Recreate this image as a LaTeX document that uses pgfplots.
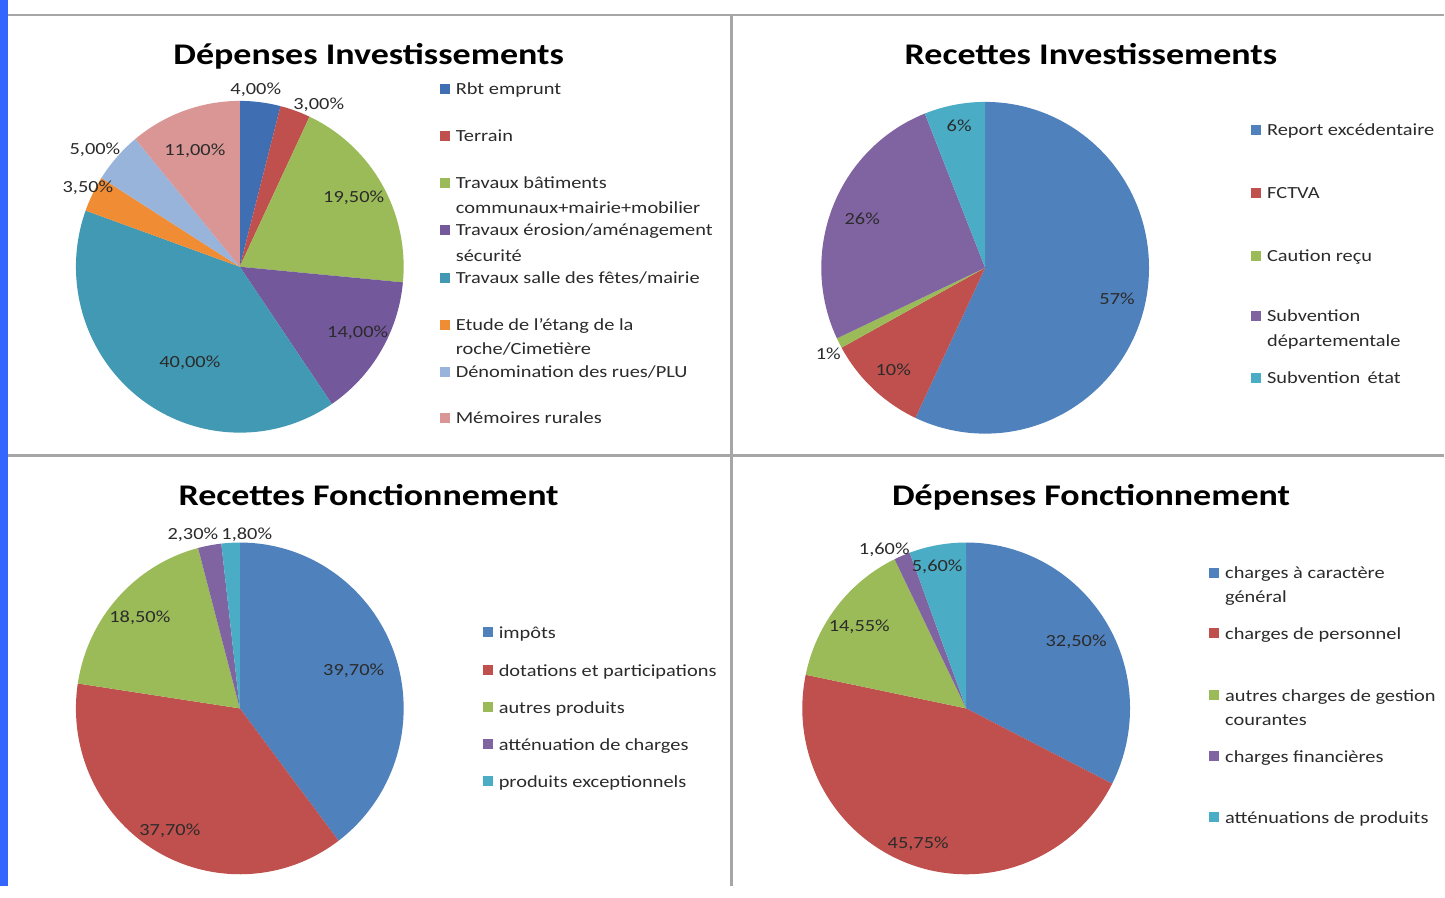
\documentclass[border=0pt]{standalone}
\usepackage{fontspec}
\setmainfont{Carlito}[FakeStretch=1.2]
\usepackage{pgfplots}
\pgfplotsset{compat=1.18}

\definecolor{cBlue}{HTML}{4F81BD}
\definecolor{cBlueD}{HTML}{3F6EB3}
\definecolor{cRed}{HTML}{C0504D}
\definecolor{cGreen}{HTML}{9BBB59}
\definecolor{cPurple}{HTML}{8064A2}
\definecolor{cPurpleD}{HTML}{73589C}
\definecolor{cCyan}{HTML}{4BACC6}
\definecolor{cTeal}{HTML}{4299B3}
\definecolor{cOrange}{HTML}{F08C33}
\definecolor{cLBlue}{HTML}{99B4DB}
\definecolor{cPink}{HTML}{D99694}
\definecolor{frame}{HTML}{A6A6A6}
\definecolor{strip}{HTML}{3366FF}
\definecolor{txt}{HTML}{2B2B2B}

\pgfplotsset{pie/.style={hide axis, scale only axis, width=328pt, height=332pt,
  xmin=-1, xmax=1, ymin=-1, ymax=1, anchor=center, clip=false}}

\newcommand\titlefont{\fontsize{30}{36}\selectfont\bfseries}
\newcommand\legfont{\fontsize{17}{20}\selectfont}

% one wedge, clockwise from 12 o'clock; #1 = percent, #2 = colour
\newcommand\startpie{\xdef\cum{0}}
\newcommand\slice[2]{%
  \pgfmathsetmacro\sa{90-3.6*\cum}%
  \pgfmathsetmacro\sb{90-3.6*(\cum+#1)}%
  \edef\doslice{\noexpand\fill[#2] (axis cs:0,0) -- (axis cs:{cos(\sa)},{sin(\sa)})
    arc[start angle=\sa, end angle=\sb, x radius=164pt, y radius=166pt] -- cycle;}%
  \doslice
  \pgfmathsetmacro\newcum{\cum+#1}%
  \xdef\cum{\newcum}%
}

% legend entry: text x, y, colour, text
\newcommand\leg[4]{%
  \fill[#3] (#1-15.5,#2-5) rectangle (#1-5.5,#2+5);
  \node[anchor=base west, inner sep=0, text=txt, font=\legfont] at (#1,#2+6) {#4};}
\newcommand\legcont[3]{%
  \node[anchor=base west, inner sep=0, text=txt, font=\legfont] at (#1,#2+6) {#3};}
\newcommand\lab[3]{\node[text=txt, font=\legfont] at (#1,#2) {#3};}

\begin{document}
\begin{tikzpicture}
\fill[white] (0,0) rectangle (1445pt,-887pt);
\fill[strip] (0,0) rectangle (8pt,-887pt);
\draw[frame, line width=2.5pt] (8pt,-15pt) -- (1445pt,-15pt);
\draw[frame, line width=2.5pt] (8pt,-456pt) -- (1445pt,-456pt);
\draw[frame, line width=2.5pt] (732pt,-15pt) -- (732pt,-887pt);

% Dépenses Investissements
\begin{axis}[pie, at={(240pt,-267pt)}]
  \startpie
  \slice{4}{cBlueD}
  \slice{3}{cRed}
  \slice{19.5}{cGreen}
  \slice{14}{cPurpleD}
  \slice{40}{cTeal}
  \slice{3.5}{cOrange}
  \slice{5}{cLBlue}
  \slice{11}{cPink}
\end{axis}

% Recettes Investissements
\begin{axis}[pie, at={(986pt,-268pt)}]
  \startpie
  \slice{57}{cBlue}
  \slice{10}{cRed}
  \slice{1}{cGreen}
  \slice{26}{cPurple}
  \slice{6}{cCyan}
\end{axis}

% Recettes Fonctionnement
\begin{axis}[pie, at={(240pt,-709pt)}]
  \startpie
  \slice{39.7}{cBlue}
  \slice{37.7}{cRed}
  \slice{18.5}{cGreen}
  \slice{2.3}{cPurple}
  \slice{1.8}{cCyan}
\end{axis}

% Dépenses Fonctionnement
\begin{axis}[pie, at={(967pt,-709pt)}]
  \startpie
  \slice{32.5}{cBlue}
  \slice{45.75}{cRed}
  \slice{14.55}{cGreen}
  \slice{1.6}{cPurple}
  \slice{5.6}{cCyan}
\end{axis}

\begin{scope}[x=1pt, y=-1pt]
  % titles
  \node[font=\titlefont, anchor=base] at (369,65) {Dépenses Investissements};
  \node[font=\titlefont, anchor=base] at (1092,65) {Recettes Investissements};
  \node[font=\titlefont, anchor=base] at (369,506) {Recettes Fonctionnement};
  \node[font=\titlefont, anchor=base] at (1092,506) {Dépenses Fonctionnement};

  % slice labels
  \lab{256}{90}{4,00\%}
  \lab{319}{105}{3,00\%}
  \lab{354}{198}{19,50\%}
  \lab{358}{333}{14,00\%}
  \lab{190}{363}{40,00\%}
  \lab{88}{188}{3,50\%}
  \lab{95}{150}{5,00\%}
  \lab{195}{151}{11,00\%}

  \lab{960}{126}{6\%}
  \lab{863}{219}{26\%}
  \lab{1118}{299}{57\%}
  \lab{829}{354}{1\%}
  \lab{894}{370}{10\%}

  \lab{193}{535}{2,30\%}
  \lab{247}{535}{1,80\%}
  \lab{140}{618}{18,50\%}
  \lab{354}{671}{39,70\%}
  \lab{170}{832}{37,70\%}

  \lab{885}{550}{1,60\%}
  \lab{938}{567}{5,60\%}
  \lab{860}{627}{14,55\%}
  \lab{1077}{642}{32,50\%}
  \lab{919}{845}{45,75\%}

  % legends
  \leg{456}{89}{cBlueD}{Rbt emprunt}
  \leg{456}{136}{cRed}{Terrain}
  \leg{456}{183}{cGreen}{Travaux bâtiments}
  \legcont{456}{208}{communaux+mairie+mobilier}
  \leg{456}{230}{cPurpleD}{Travaux érosion/aménagement}
  \legcont{456}{256}{sécurité}
  \leg{456}{278}{cTeal}{Travaux salle des fêtes/mairie}
  \leg{456}{325}{cOrange}{Etude de l'étang de la}
  \legcont{456}{349}{roche/Cimetière}
  \leg{456}{372}{cLBlue}{Dénomination des rues/PLU}
  \leg{456}{418}{cPink}{Mémoires rurales}

  \leg{1268}{130}{cBlue}{Report excédentaire}
  \leg{1268}{193}{cRed}{FCTVA}
  \leg{1268}{256}{cGreen}{Caution reçu}
  \leg{1268}{316}{cPurple}{Subvention}
  \legcont{1268}{341}{départementale}
  \leg{1268}{378}{cCyan}{Subvention\, état}

  \leg{499}{633}{cBlue}{impôts}
  \leg{499}{671}{cRed}{dotations et participations}
  \leg{499}{708}{cGreen}{autres produits}
  \leg{499}{745}{cPurple}{atténuation de charges}
  \leg{499}{782}{cCyan}{produits exceptionnels}

  \leg{1226}{573}{cBlue}{charges à caractère}
  \legcont{1226}{597}{général}
  \leg{1226}{634}{cRed}{charges de personnel}
  \leg{1226}{696}{cGreen}{autres charges de gestion}
  \legcont{1226}{720}{courantes}
  \leg{1226}{757}{cPurple}{charges financières}
  \leg{1226}{818}{cCyan}{atténuations de produits}
\end{scope}
\end{tikzpicture}
\end{document}
